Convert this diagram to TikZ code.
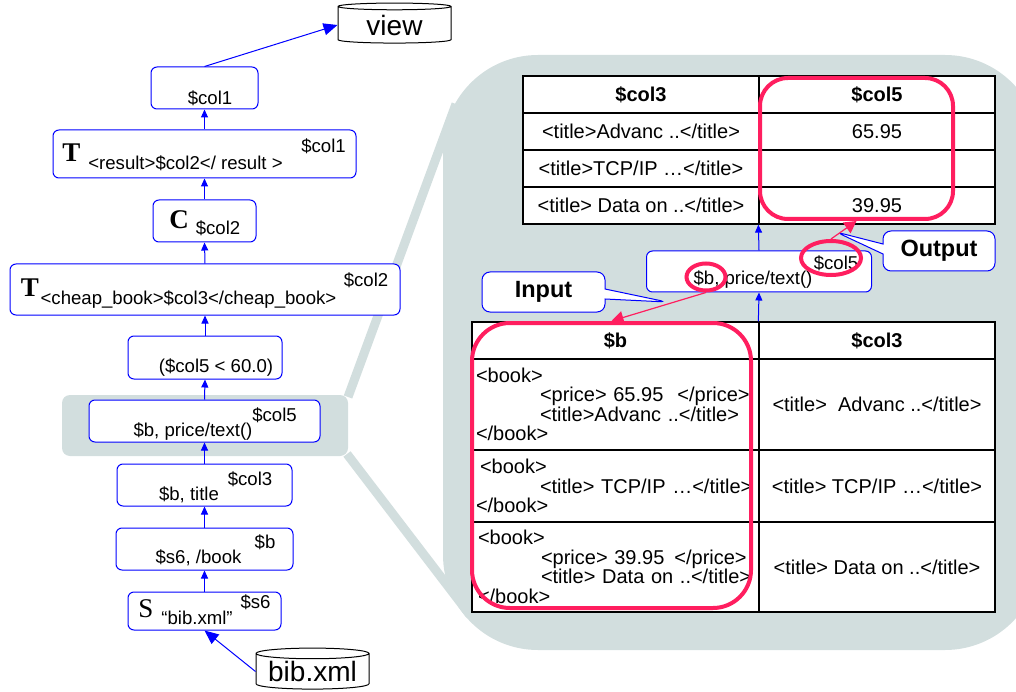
\documentclass[tikz,border=0pt]{standalone}
\usepackage{fontspec}
\setmainfont{Liberation Sans}
\newfontfamily\opletter{Liberation Serif}
\usetikzlibrary{shapes,arrows.meta,positioning}
\definecolor{zoomgray}{RGB}{210,222,222}
\definecolor{hlpink}{RGB}{255,30,95}
\newcommand\opfont{\fontsize{18.6}{20}\selectfont}
\newcommand\tabfont{\fontsize{20}{19.5}\selectfont}
\newcommand\bigfont{\fontsize{27}{27}\selectfont}

\begin{document}
\begin{tikzpicture}[x=1pt,y=-1pt,% pixel-like units, y pointing down
		every node/.style={align=center},
		op/.style={rectangle,rounded corners=6pt,draw=blue,line width=1pt,fill=white,inner sep=0pt},
		optxt/.style={anchor=base,inner sep=0pt,font=\opfont},
		opsym/.style={anchor=base,inner sep=0pt,font=\opletter\bigfont},
		store/.style={cylinder,shape border rotate=90,aspect=0.12,draw,line width=1pt,fill=white,inner sep=0pt,font=\fontsize{28}{28}\selectfont},
		flow/.style={draw=blue,line width=1pt,-{Triangle[length=8pt,width=7pt]}},
		bigflow/.style={draw=blue,line width=1pt,-{Triangle[length=14pt,width=12pt]}},
		cell/.style={rectangle,draw,line width=1.3pt,fill=white,inner sep=0pt,font=\tabfont},
		hdr/.style={cell,font=\tabfont\bfseries,minimum height=37pt},
		ring/.style={ellipse,draw=hlpink,line width=4pt,inner sep=0pt},
		hlbox/.style={rectangle,draw=hlpink,line width=4pt,inner sep=0pt},
		hlflow/.style={draw=hlpink,line width=1.2pt,-{Triangle[length=12pt,width=13pt]}},
		tag/.style={rectangle callout,rounded corners=8pt,draw=blue,line width=1pt,fill=white,inner sep=0pt,callout pointer width=10pt,font=\fontsize{23.5}{24}\selectfont\bfseries}
	]
	\useasboundingbox (0,0) rectangle (1016,692);
	% zoom panel and band
	\fill[zoomgray,rounded corners=95pt] (443,55) rectangle (1040,650);
	\draw[zoomgray,line width=9pt] (348,397) -- (456,104);
	\draw[zoomgray,line width=9pt] (347,454) -- (470,615);
	\fill[zoomgray,rounded corners=8pt] (62,395) rectangle (348,456);

	% plan
	\node[store,minimum width=113pt,minimum height=40pt](view) at (394.5,25) {view};
	\node[op,minimum width=107pt,minimum height=42pt](colone) at (204.5,88) {};
	\node[optxt](colonevar) at (210,105) {\$col1};
	\node[op,minimum width=303pt,minimum height=48pt](tres) at (204.5,154) {};
	\node[opsym,font=\opletter\bigfont\bfseries](tresop) at (71.5,162) {T};
	\node[optxt](tresarg) at (185.5,170) {<result>\$col2</ result >};
	\node[optxt](tresvar) at (323.5,153) {\$col1};
	\node[op,minimum width=103pt,minimum height=42pt](cnode) at (204.5,221) {};
	\node[opsym,font=\opletter\bigfont\bfseries](cnodeop) at (179,229) {C};
	\node[optxt](cnodevar) at (218,235) {\$col2};
	\node[op,minimum width=390pt,minimum height=51pt](tcheap) at (205,289.5) {};
	\node[opsym,font=\opletter\bigfont\bfseries](tcheapop) at (30,296) {T};
	\node[optxt](tcheaparg) at (188.5,304) {<cheap\_book>\$col3</cheap\_book>};
	\node[optxt](tcheapvar) at (366,287) {\$col2};
	\node[op,minimum width=154pt,minimum height=43pt](sel) at (205,357.5) {};
	\node[optxt](selarg) at (216,372) {(\$col5 < 60.0)};
	\node[op,minimum width=231pt,minimum height=42pt](price) at (204.5,421) {};
	\node[optxt](pricevar) at (274.5,421) {\$col5};
	\node[optxt](pricearg) at (193,436) {\$b, price/text()};
	\node[op,minimum width=175pt,minimum height=42pt](title) at (204.5,485) {};
	\node[optxt](titlevar) at (250,485) {\$col3};
	\node[optxt](titlearg) at (189,500) {\$b, title};
	\node[op,minimum width=177pt,minimum height=42pt](book) at (204.5,549) {};
	\node[optxt](bookvar) at (265,548) {\$b};
	\node[optxt](bookarg) at (198.5,563) {\$s6, /book};
	\node[op,minimum width=153pt,minimum height=38pt](scan) at (204.5,611) {};
	\node[opsym](scanop) at (146,617) {S};
	\node[optxt](scanarg) at (197,624) {“bib.xml”};
	\node[optxt](scanvar) at (255.5,608) {\$s6};
	\node[store,minimum width=113pt,minimum height=41pt](bib) at (312.5,671.5) {bib.xml};

	\draw[bigflow] (bib.west) -- (scan.south);
	\draw[flow] (scan.north) -- (book.south);
	\draw[flow] (book.north) -- (title.south);
	\draw[flow] (title.north) -- (price.south);
	\draw[flow] (price.north) -- (sel.south);
	\draw[flow] (sel.north) -- (tcheap.south);
	\draw[flow] (tcheap.north) -- (cnode.south);
	\draw[flow] (cnode.north) -- (tres.south);
	\draw[flow] (tres.north) -- (colone.south);
	\draw[bigflow] (colone.north) -- (view.west);

	% output table
	\node[hdr,minimum width=236pt](oa0) at (641,94.5) {\$col3};
	\node[hdr,minimum width=236pt](ob0) at (877,94.5) {\$col5};
	\node[cell,minimum width=236pt,minimum height=37pt](oa1) at (641,131.5) {<title>Advanc ..</title>};
	\node[cell,minimum width=236pt,minimum height=37pt](ob1) at (877,131.5) {65.95};
	\node[cell,minimum width=236pt,minimum height=37pt](oa2) at (641,168.5) {<title>TCP/IP …</title>};
	\node[cell,minimum width=236pt,minimum height=37pt](ob2) at (877,168.5) {};
	\node[cell,minimum width=236pt,minimum height=37pt](oa3) at (641,205.5) {<title> Data on ..</title>};
	\node[cell,minimum width=236pt,minimum height=37pt](ob3) at (877,205.5) {39.95};

	% input table
	\node[hdr,minimum width=287pt](ia0) at (615.5,340.5) {\$b};
	\node[hdr,minimum width=236pt](ib0) at (877,340.5) {\$col3};
	\node[cell,minimum width=287pt,minimum height=91pt,text width=279pt,align=left](ia1) at (615.5,404.5)
		{<book>\\\hspace*{64pt}<price> 65.95\hspace{14pt}</price>\\\hspace*{64pt}<title>Advanc ..</title>\\</book>};
	\node[cell,minimum width=236pt,minimum height=91pt](ib1) at (877,404.5) {<title>~ Advanc ..</title>};
	\node[cell,minimum width=287pt,minimum height=72pt,text width=279pt,align=left](ia2) at (615.5,486)
		{\hspace*{4pt}<book>\\\hspace*{64pt}<title> TCP/IP …</title>\\</book>};
	\node[cell,minimum width=236pt,minimum height=72pt](ib2) at (877,486) {<title> TCP/IP …</title>};
	\node[cell,minimum width=287pt,minimum height=90pt,text width=279pt,align=left](ia3) at (615.5,567)
		{\hspace*{2pt}<book>\\\hspace*{65pt}<price> 39.95\hspace{10pt}</price>\\\hspace*{65pt}<title> Data on ..</title>\\\hspace*{2pt}</book>};
	\node[cell,minimum width=236pt,minimum height=90pt](ib3) at (877,567) {<title> Data on ..</title>};

	% zoomed operator
	\node[op,minimum width=225pt,minimum height=41pt](price2) at (759,271.5) {};
	\node[optxt](price2var) at (836,270) {\$col5};
	\node[optxt](price2arg) at (753,285) {\$b, price/text()};
	\draw[flow] (price2.north) -- (ob3.south west);
	\draw[flow] (ib0.north west) -- (price2.south);

	\node[tag,minimum width=123pt,minimum height=40pt,callout absolute pointer={(667,302)}](input) at (543.5,292) {Input};
	\node[tag,minimum width=112pt,minimum height=40pt,callout absolute pointer={(836,232)}](output) at (939,251) {Output};

	% highlights
	\node[hlbox,rounded corners=28pt,minimum width=193pt,minimum height=141pt](outbox) at (856.5,148.5) {};
	\node[hlbox,rounded corners=38pt,minimum width=279pt,minimum height=285pt](inbox) at (611.5,465.5) {};
	\node[ring,minimum width=60pt,minimum height=34pt](colring) at (831,258) {};
	\node[ring,minimum width=39pt,minimum height=27pt](bring) at (706,277) {};
	\draw[hlflow] (colring.north) -- (outbox.south);
	\draw[hlflow] (bring.south) -- (inbox.north);
\end{tikzpicture}
\end{document}
